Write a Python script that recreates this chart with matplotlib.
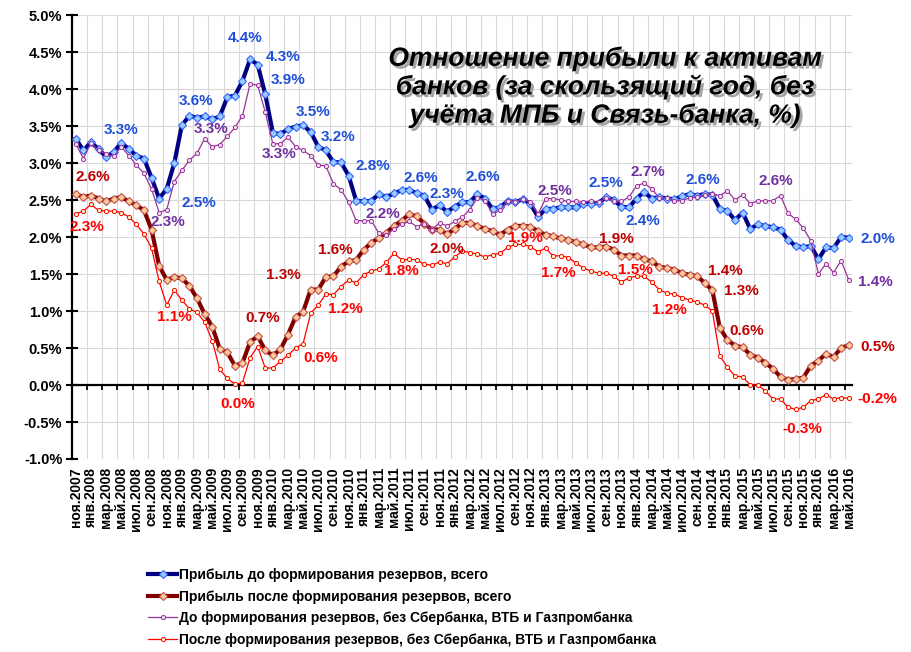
import matplotlib
matplotlib.use("Agg")
import matplotlib.pyplot as plt
import matplotlib.patheffects as pe
import numpy as np

plt.rcParams['font.family'] = ['Liberation Sans', 'DejaVu Sans']
plt.rcParams['font.weight'] = 'bold'

# --- data: monthly, ноя.2007 .. май.2016, % -----------------------------------
MONTHS = ['янв', 'фев', 'мар', 'апр', 'май', 'июн',
          'июл', 'авг', 'сен', 'окт', 'ноя', 'дек']
first_month, first_year, n_periods = 11, 2007, 103
periods = [f"{MONTHS[(first_month - 1 + k) % 12]}.{first_year + (first_month - 1 + k) // 12}"
           for k in range(n_periods)]

before_total = [
    3.33, 3.17, 3.28, 3.19, 3.08, 3.15, 3.27, 3.19, 3.10, 3.06,
    2.80, 2.52, 2.65, 3.00, 3.51, 3.64, 3.61, 3.63, 3.59, 3.63,
    3.89, 3.91, 4.11, 4.40, 4.33, 3.93, 3.41, 3.39, 3.46, 3.49,
    3.51, 3.42, 3.22, 3.17, 3.01, 3.01, 2.83, 2.49, 2.48, 2.49,
    2.58, 2.54, 2.59, 2.63, 2.64, 2.59, 2.56, 2.37, 2.43, 2.34,
    2.41, 2.47, 2.47, 2.58, 2.52, 2.38, 2.40, 2.49, 2.47, 2.51,
    2.45, 2.27, 2.38, 2.38, 2.40, 2.40, 2.40, 2.45, 2.45, 2.46,
    2.54, 2.50, 2.41, 2.40, 2.52, 2.61, 2.52, 2.54, 2.52, 2.51,
    2.55, 2.58, 2.56, 2.58, 2.57, 2.38, 2.35, 2.23, 2.33, 2.11,
    2.17, 2.15, 2.13, 2.10, 1.96, 1.88, 1.86, 1.88, 1.70, 1.86,
    1.85, 2.00, 1.99]

after_total = [
    2.58, 2.54, 2.56, 2.52, 2.48, 2.52, 2.54, 2.48, 2.43, 2.36,
    2.10, 1.61, 1.42, 1.46, 1.44, 1.34, 1.17, 0.96, 0.79, 0.49,
    0.44, 0.26, 0.30, 0.58, 0.66, 0.47, 0.40, 0.48, 0.68, 0.92,
    0.99, 1.29, 1.29, 1.46, 1.47, 1.60, 1.67, 1.69, 1.83, 1.92,
    1.99, 2.06, 2.15, 2.22, 2.31, 2.28, 2.18, 2.10, 2.10, 2.04,
    2.11, 2.19, 2.19, 2.15, 2.11, 2.08, 2.03, 2.10, 2.15, 2.15,
    2.14, 2.08, 2.03, 2.01, 1.98, 1.96, 1.93, 1.90, 1.86, 1.86,
    1.87, 1.83, 1.75, 1.75, 1.75, 1.70, 1.67, 1.60, 1.58, 1.56,
    1.51, 1.49, 1.47, 1.38, 1.28, 0.77, 0.61, 0.53, 0.51, 0.41,
    0.37, 0.30, 0.22, 0.11, 0.07, 0.08, 0.10, 0.26, 0.33, 0.42,
    0.38, 0.50, 0.54]

before_ex_big3 = [
    3.26, 3.06, 3.27, 3.17, 3.12, 3.09, 3.22, 3.10, 2.97, 2.86,
    2.65, 2.33, 2.37, 2.75, 2.90, 3.04, 3.13, 3.33, 3.22, 3.25,
    3.36, 3.48, 3.64, 4.07, 4.05, 3.69, 3.26, 3.26, 3.35, 3.22,
    3.17, 3.10, 2.97, 2.96, 2.72, 2.64, 2.47, 2.22, 2.22, 2.22,
    2.05, 2.03, 2.11, 2.17, 2.21, 2.14, 2.18, 2.10, 2.19, 2.15,
    2.21, 2.27, 2.37, 2.53, 2.49, 2.31, 2.36, 2.49, 2.47, 2.52,
    2.47, 2.31, 2.52, 2.52, 2.50, 2.48, 2.48, 2.47, 2.49, 2.47,
    2.53, 2.49, 2.48, 2.54, 2.69, 2.73, 2.65, 2.53, 2.53, 2.49,
    2.49, 2.53, 2.54, 2.57, 2.58, 2.56, 2.62, 2.50, 2.57, 2.45,
    2.49, 2.49, 2.49, 2.56, 2.32, 2.24, 2.12, 1.95, 1.50, 1.64,
    1.52, 1.68, 1.42]

after_ex_big3 = [
    2.31, 2.35, 2.44, 2.36, 2.35, 2.35, 2.33, 2.27, 2.17, 2.04,
    1.85, 1.40, 1.08, 1.28, 1.15, 1.03, 0.98, 0.85, 0.60, 0.21,
    0.09, 0.01, 0.03, 0.37, 0.52, 0.23, 0.23, 0.32, 0.40, 0.50,
    0.56, 0.97, 1.08, 1.23, 1.22, 1.33, 1.42, 1.38, 1.49, 1.54,
    1.57, 1.66, 1.78, 1.69, 1.70, 1.69, 1.63, 1.62, 1.66, 1.64,
    1.73, 1.81, 1.79, 1.77, 1.73, 1.76, 1.78, 1.86, 1.90, 1.90,
    1.87, 1.80, 1.85, 1.74, 1.75, 1.72, 1.65, 1.58, 1.54, 1.51,
    1.51, 1.47, 1.39, 1.45, 1.47, 1.47, 1.39, 1.29, 1.24, 1.23,
    1.18, 1.15, 1.12, 1.08, 1.00, 0.39, 0.24, 0.12, 0.11, 0.00,
    0.00, -0.08, -0.19, -0.19, -0.30, -0.33, -0.30, -0.21, -0.19, -0.13,
    -0.19, -0.17, -0.18]

series_names = [
    'Прибыль до формирования резервов, всего',
    'Прибыль после формирования резервов, всего',
    'До формирования резервов, без Сбербанка, ВТБ и Газпромбанка',
    'После формирования резервов, без Сбербанка, ВТБ и Газпромбанка',
]

# data labels: (period index, text)
before_total_labels = [(6, '3.3%'), (11, '2.5%'), (15, '3.6%'), (23, '4.4%'), (24, '4.3%'),
                       (25, '3.9%'), (30, '3.5%'), (33, '3.2%'), (36, '2.8%'), (44, '2.6%'),
                       (49, '2.3%'), (53, '2.6%'), (70, '2.5%'), (73, '2.4%'), (81, '2.6%'),
                       (102, '2.0%')]
after_total_labels = [(0, '2.6%'), (24, '0.7%'), (31, '1.3%'), (35, '1.6%'), (49, '2.0%'),
                      (70, '1.9%'), (83, '1.4%'), (84, '1.3%'), (86, '0.6%'), (102, '0.5%')]
before_ex_labels = [(11, '2.3%'), (17, '3.3%'), (26, '3.3%'), (38, '2.2%'), (63, '2.5%'),
                    (75, '2.7%'), (93, '2.6%'), (102, '1.4%')]
after_ex_labels = [(0, '2.3%'), (12, '1.1%'), (22, '0.0%'), (30, '0.6%'), (33, '1.2%'),
                   (42, '1.8%'), (58, '1.9%'), (63, '1.7%'), (74, '1.5%'), (78, '1.2%'),
                   (95, '-0.3%'), (102, '-0.2%')]

# label offsets in pixels (dx, dy), same order as above
before_total_offsets = [(0, 13), (40, -4), (7, 15), (-5, 21), (25, 8), (23, 14), (10, 13),
                        (12, 13), (24, 10), (12, 12), (0, 18), (5, 17), (0, 14), (14, -14),
                        (13, 14), (29, -1)]
after_total_offsets = [(17, 17), (5, 18), (-27, 15), (-6, 17), (0, -15), (10, 8), (21, 12),
                       (29, -1), (19, 9), (29, -2)]
before_ex_offsets = [(9, -9), (6, 10), (6, -10), (19, 7), (2, 8), (4, 11), (-5, 15), (27, -2)]
after_ex_offsets = [(11, -13), (8, -12), (-5, -21), (18, -14), (20, -15), (7, -18), (10, 6),
                    (5, -17), (-1, 6), (3, -17), (7, -20), (29, -1)]

title = 'Отношение прибыли к активам\nбанков (за скользящий год, без\nучёта МПБ и Связь-банка, %)'

# --- figure --------------------------------------------------------------------
W, H = 911, 652
fig = plt.figure(figsize=(W / 100, H / 100), dpi=100)
ax = fig.add_axes([72 / W, 1 - 459 / H, (852.5 - 72) / W, 444 / H])

x = np.arange(n_periods)
ax.plot(x, before_total, color='#000080', lw=3, marker='D', ms=4.5,
        mfc='#99CCFF', mec='#3366FF', mew=0.8, label=series_names[0], zorder=3)
ax.plot(x, after_total, color='#800000', lw=3, marker='D', ms=4.5,
        mfc='#FFCC99', mec='#C0504D', mew=0.8, label=series_names[1], zorder=3)
ax.plot(x, before_ex_big3, color='#993399', lw=0.9, marker='o', ms=3,
        mfc='#F4E0F4', mec='#993399', mew=0.7, label=series_names[2], zorder=4)
ax.plot(x, after_ex_big3, color='#FF0000', lw=0.9, marker='o', ms=3,
        mfc='#FFFFCC', mec='#FF0000', mew=0.7, label=series_names[3], zorder=4)

label_sets = [
    (before_total, before_total_labels, before_total_offsets, '#1F4FD6'),
    (after_total, after_total_labels, after_total_offsets, '#C00000'),
    (before_ex_big3, before_ex_labels, before_ex_offsets, '#7030A0'),
    (after_ex_big3, after_ex_labels, after_ex_offsets, '#FF0000'),
]
for values, labels, offsets, color in label_sets:
    for (i, txt), (dx, dy) in zip(labels, offsets):
        ax.annotate(txt, (i, values[i]), xytext=(dx, dy), textcoords='offset pixels',
                    ha='center', va='center', color=color, fontsize=11,
                    fontweight='bold', zorder=6)

# axes styling
ax.set_xlim(-0.5, n_periods - 0.5)
ax.set_ylim(-1.0, 5.0)
yt = np.arange(-1.0, 5.01, 0.5)
ax.set_yticks(yt)
ax.set_yticklabels([f'{v:.1f}%' for v in yt])
ax.set_xticks([])
ax.set_xticks(np.arange(-0.5, n_periods, 2), minor=True)

for side in ('top', 'right'):
    ax.spines[side].set_visible(False)
ax.spines['left'].set_linewidth(1.6)
ax.spines['bottom'].set_position(('data', 0))
ax.spines['bottom'].set_linewidth(1.6)

ax.tick_params(axis='y', direction='inout', length=8, width=1.5, labelsize=10.5, pad=3)
ax.tick_params(axis='x', which='minor', direction='out', length=3.5, width=1.3)
ax.grid(True, which='minor', axis='x', color='#D9D9D9', lw=0.8)
ax.grid(True, which='major', axis='y', color='#D9D9D9', lw=0.8)
ax.set_axisbelow(True)

for k in range(0, n_periods, 2):
    ax.text(k, -0.018, periods[k], transform=ax.get_xaxis_transform(), rotation=90,
            ha='center', va='top', fontsize=10, fontweight='bold')

fig.text(605 / W, 1 - 87 / H, title, ha='center', va='center', fontsize=19,
         fontstyle='italic', fontweight='bold', linespacing=1.2, multialignment='center',
         path_effects=[pe.withSimplePatchShadow(offset=(2, -2), shadow_rgbFace='#7F7F7F',
                                                alpha=0.7)])

fig.legend(loc='upper left', bbox_to_anchor=(148 / W, 1 - 568 / H), frameon=False,
           handlelength=2.1, handletextpad=0.15, labelspacing=0.55,
           borderaxespad=0, borderpad=0, prop={'weight': 'bold', 'size': 10})

fig.savefig('out.png', dpi=100)
